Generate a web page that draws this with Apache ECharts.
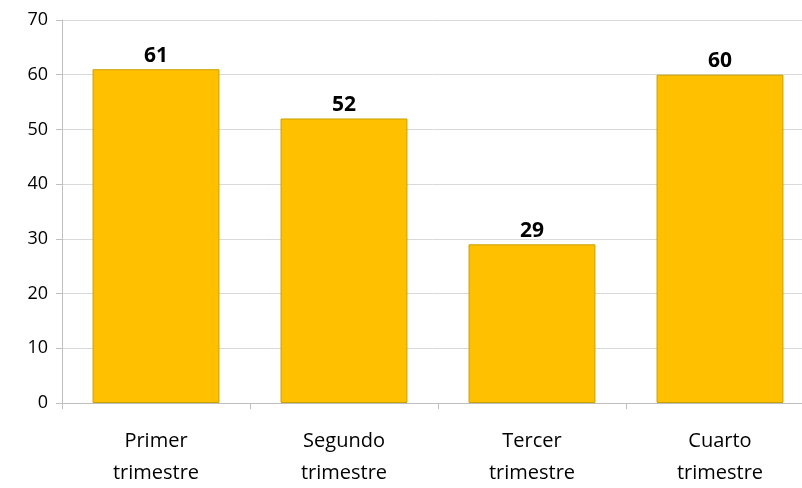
<!DOCTYPE html>
<html>
<head>
<meta charset="utf-8">
<script src="https://cdn.jsdelivr.net/npm/echarts@6/dist/echarts.min.js"></script>
<style>
  html, body { margin: 0; padding: 0; background: #fff; }
  #chart { width: 802px; height: 488px; }
</style>
</head>
<body>
<div id="chart"></div>
<script>
const categories = ["Primer\ntrimestre", "Segundo\ntrimestre", "Tercer\ntrimestre", "Cuarto\ntrimestre"];
const values = [61, 52, 29, 60];

const chart = echarts.init(document.getElementById("chart"));
chart.setOption({
  animation: false,
  grid: { left: 62, width: 752, top: 20, bottom: 85, outerBoundsMode: "none" },
  xAxis: {
    type: "category",
    data: categories,
    axisLine: { lineStyle: { color: "#bfbfbf" } },
    axisTick: { show: true, length: 6, lineStyle: { color: "#bfbfbf" } },
    axisLabel: {
      color: "#000",
      fontFamily: "Open Sans",
      fontSize: 20,
      lineHeight: 32,
      margin: 22
    }
  },
  yAxis: {
    type: "value",
    min: 0,
    max: 70,
    interval: 10,
    axisLine: { show: true, lineStyle: { color: "#bfbfbf" } },
    axisTick: { show: true, length: 6, lineStyle: { color: "#bfbfbf" } },
    splitLine: { lineStyle: { color: "#d9d9d9" } },
    axisLabel: {
      color: "#000",
      fontFamily: "Open Sans",
      fontSize: 18,
      margin: 14
    }
  },
  series: [
    {
      type: "bar",
      data: values,
      barWidth: "67.5%",
      itemStyle: { color: "#ffc000", borderColor: "#c9a000", borderWidth: 1 },
      label: {
        show: true,
        position: "top",
        distance: 3,
        color: "#000",
        fontFamily: "Open Sans",
        fontWeight: "bold",
        fontSize: 21
      }
    }
  ]
});
</script>
</body>
</html>
